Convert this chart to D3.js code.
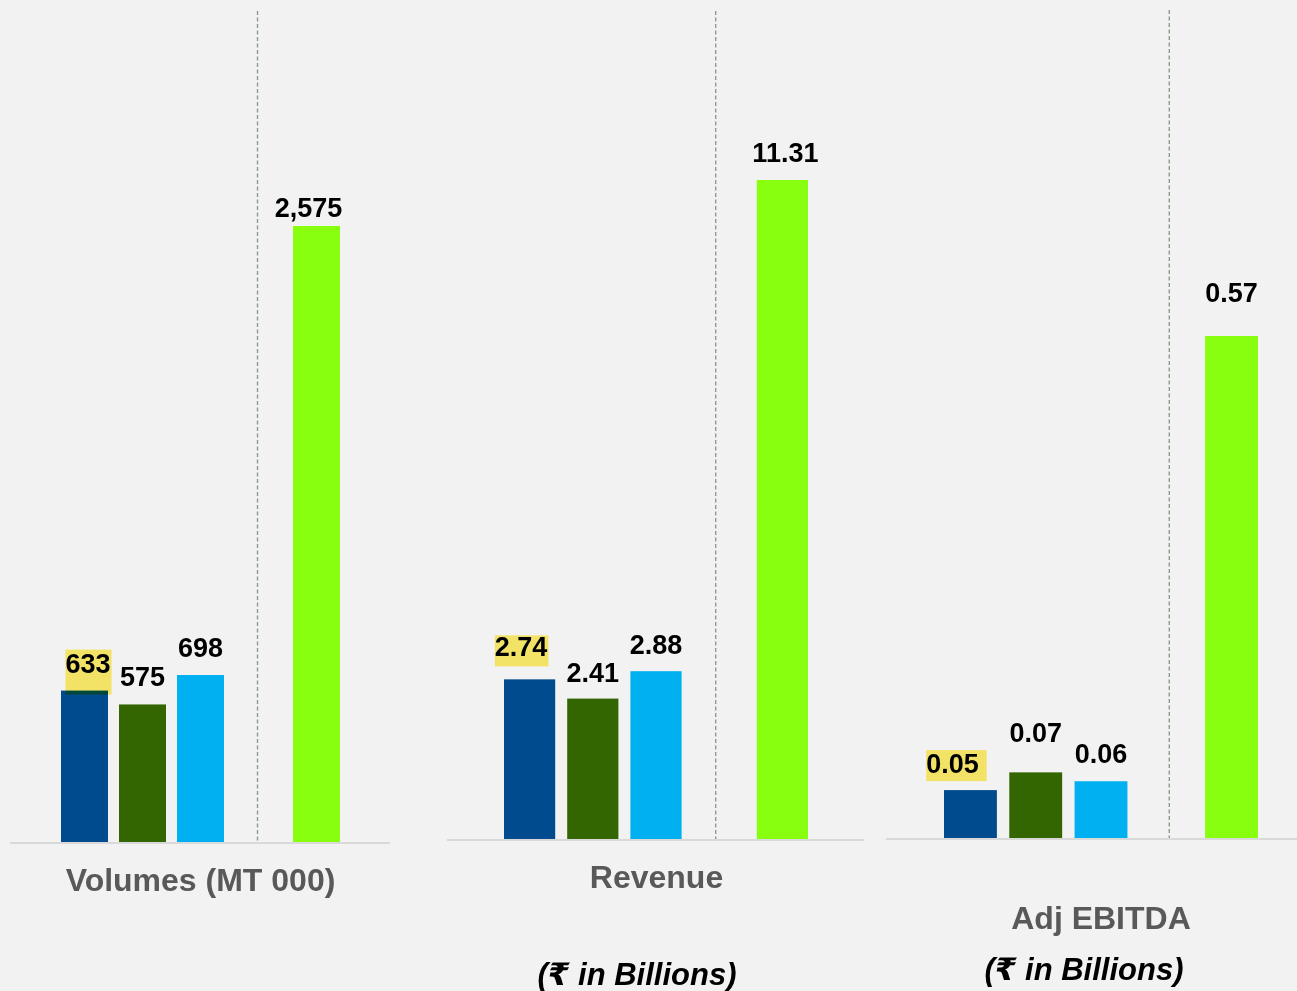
<!DOCTYPE html>
<html>
<head>
<meta charset="utf-8">
<script src="https://cdn.jsdelivr.net/npm/d3@7"></script>
<style>
  html, body { margin: 0; padding: 0; background: #F2F2F2; }
  svg { display: block; isolation: isolate; }
  text { font-family: "Liberation Sans", Arial, "DejaVu Sans", "Noto Sans", sans-serif; }
</style>
</head>
<body>
<script>
// ---- Data ----
const periods = ["Q1", "Q2", "Q3", "FY"];
const volumes = [633, 575, 698, 2575];
const revenue = [2.74, 2.41, 2.88, 11.31];
const adjEbitda = [0.054, 0.074, 0.064, 0.566];
const panelTitles = ["Volumes (MT 000)", "Revenue", "Adj EBITDA"];
const unitNotes = [null, "(\u20B9 in Billions)", "(\u20B9 in Billions)"];
const valueFormats = [",.0f", ".2f", ".2f"];
const barColors = ["#004B8D", "#336600", "#00B0F0", "#88FF0F"];

// ---- Layout ----
const W = 1297, H = 991;
const panels = [
  { values: volumes,   x0: 61,  x1: 340,  base: 842, top: 226, axis: [10, 390],  dashTop: 11, divShift: -1,
    title: [200.5, 891], note: null,
    gaps: [18, 18, 18, 9], shifts: [3.5, 0, 0, -8],
    hl: { boxTop: 23, boxH: 45, padR: 1 } },
  { values: revenue,   x0: 504, x1: 808,  base: 839, top: 180, axis: [447, 864], dashTop: 11, divShift: -3.5,
    title: [656.5, 888], note: [637, 985],
    gaps: [23, 17, 17, 18], shifts: [-8.5, 0, 0, 3],
    hl: { boxTop: 21, boxH: 31, padR: 1 } },
  { values: adjEbitda, x0: 944, x1: 1258, base: 838, top: 336, axis: [886, 1297], dashTop: 10, divShift: 3,
    title: [1101, 929], note: [1084, 980],
    gaps: [17, 30, 18, 34], shifts: [-18, 0, 0, 0],
    hl: { boxTop: 23, boxH: 31, padR: 8 } }
];

const svg = d3.select("body").append("svg").attr("width", W).attr("height", H);
svg.append("rect").attr("width", W).attr("height", H).attr("fill", "#F2F2F2");

const slots = ["Q1", "Q2", "Q3", "divider", "FY"];

panels.forEach((p, pi) => {
  const g = svg.append("g");
  const x = d3.scaleBand().domain(slots).range([p.x0, p.x1]).paddingInner(0.19).paddingOuter(0);
  const y = d3.scaleLinear().domain([0, d3.max(p.values)]).range([p.base, p.top]);
  const fmt = d3.format(valueFormats[pi]);
  const data = periods.map((k, i) => ({ key: k, value: p.values[i], color: barColors[i], i }));

  // baseline
  g.append("line")
    .attr("x1", p.axis[0]).attr("x2", p.axis[1])
    .attr("y1", p.base + 1).attr("y2", p.base + 1)
    .attr("stroke", "#D9D9D9").attr("stroke-width", 2);

  // divider dashed line
  const dx = x("divider") + x.bandwidth() / 2 + p.divShift;
  g.append("line")
    .attr("x1", dx).attr("x2", dx)
    .attr("y1", p.dashTop).attr("y2", p.base)
    .attr("stroke", "#8A9E8A").attr("stroke-width", 1.4)
    .attr("stroke-dasharray", "4,2.5");

  // bars
  g.selectAll("rect.bar").data(data).join("rect")
    .attr("class", "bar")
    .attr("x", d => x(d.key))
    .attr("width", x.bandwidth())
    .attr("y", d => y(d.value))
    .attr("height", d => p.base - y(d.value))
    .attr("fill", d => d.color);

  // value labels
  const labels = g.selectAll("text.val").data(data).join("text")
    .attr("class", "val")
    .attr("x", d => x(d.key) + x.bandwidth() / 2 + p.shifts[d.i])
    .attr("y", d => y(d.value) - p.gaps[d.i])
    .attr("text-anchor", "middle")
    .attr("font-size", 27)
    .attr("font-weight", "bold")
    .attr("fill", "#000")
    .text(d => fmt(d.value));

  // highlight box behind first label (multiply blend)
  const first = labels.filter(d => d.i === 0);
  const bb = first.node().getBBox();
  const baseY = +first.attr("y");
  g.insert("rect", "text.val")
    .attr("x", bb.x)
    .attr("y", baseY - p.hl.boxTop)
    .attr("width", bb.width + p.hl.padR)
    .attr("height", p.hl.boxH)
    .attr("fill", "#FFF06B")
    .style("mix-blend-mode", "multiply");

  // titles
  g.append("text")
    .attr("x", p.title[0]).attr("y", p.title[1])
    .attr("text-anchor", "middle")
    .attr("font-size", 32).attr("font-weight", "bold")
    .attr("fill", "#595959")
    .text(panelTitles[pi]);

  if (p.note) {
    g.append("text")
      .attr("x", p.note[0]).attr("y", p.note[1])
      .attr("text-anchor", "middle")
      .attr("font-size", 31).attr("font-weight", "bold").attr("font-style", "italic")
      .attr("fill", "#000")
      .text(unitNotes[pi]);
  }
});
</script>
</body>
</html>
